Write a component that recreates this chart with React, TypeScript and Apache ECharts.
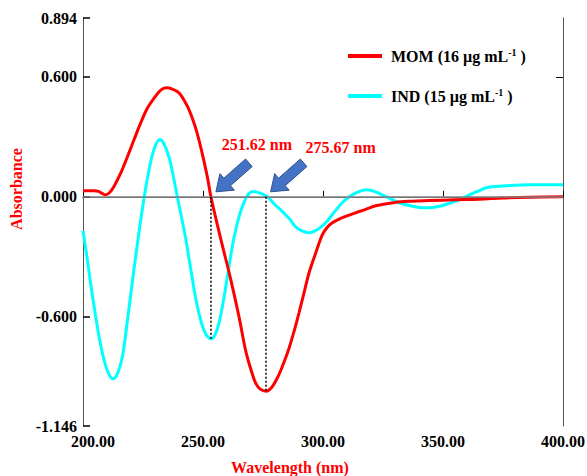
import React, { useEffect, useRef } from 'react';
import * as echarts from 'echarts';

// ---- data (wavelength nm, absorbance) ----
const xTicks = [200, 250, 300, 350, 400];
const yTicks = [-1.146, -0.6, 0, 0.6, 0.894];

const momPoints: number[][] = [
  [200, 0.03], [204.6, 0.03], [206.5, 0.027], [207.8, 0.018], [209.4, 0.01], [211, 0.02],
  [212.9, 0.052], [215.7, 0.118], [218.5, 0.2], [221.25, 0.285], [224, 0.368], [226.8, 0.443],
  [229.6, 0.493], [232.4, 0.533], [234.6, 0.545], [237, 0.54], [240, 0.52], [242, 0.485],
  [244.2, 0.435], [246.5, 0.36], [248.3, 0.285], [250, 0.2], [251.8, 0.1], [253.3, 0.0],
  [255, -0.09], [258, -0.24], [261.5, -0.41], [265, -0.6], [267.8, -0.77], [270, -0.865],
  [272, -0.933], [274, -0.963], [276.3, -0.972], [278.5, -0.955], [281, -0.905], [283, -0.85],
  [285.5, -0.77], [288, -0.67], [290, -0.58], [292.5, -0.46], [294.2, -0.38], [297, -0.28],
  [299.7, -0.19], [301.8, -0.152], [303.9, -0.13], [306.5, -0.113], [309.4, -0.098],
  [313.5, -0.08], [317.8, -0.063], [322, -0.045], [330, -0.028], [337, -0.022], [344, -0.019],
  [355, -0.015], [365, -0.012], [375, -0.006], [386, -0.002], [400, 0.0],
];

const indPoints: number[][] = [
  [200, -0.17], [202, -0.33], [203.5, -0.46], [205.3, -0.6], [207, -0.72], [208.75, -0.815],
  [210.5, -0.88], [212.5, -0.91], [214.5, -0.88], [216.4, -0.8], [218.5, -0.62], [220.5, -0.43],
  [222.5, -0.25], [224.5, -0.08], [226.5, 0.07], [228.5, 0.19], [230.3, 0.26], [232.1, 0.285],
  [233.5, 0.27], [235.8, 0.2], [237.5, 0.11], [239.3, 0.0], [241, -0.1], [242.8, -0.21],
  [245, -0.37], [247, -0.51], [249, -0.615], [251.1, -0.685], [253.4, -0.71], [255, -0.69],
  [256.7, -0.63], [258.8, -0.5], [260.8, -0.35], [263, -0.2], [265, -0.1], [267, -0.03],
  [269.2, 0.018], [271.25, 0.027], [273.5, 0.02], [276.8, 0.0], [280, -0.04], [283, -0.073],
  [286, -0.11], [288.6, -0.15], [291.5, -0.172], [294.2, -0.18], [297.5, -0.165],
  [301.1, -0.13], [304.5, -0.08], [308, -0.03], [311, 0.0], [313.6, 0.018], [317.8, 0.035],
  [322, 0.025], [327.5, -0.007], [333, -0.035], [340, -0.053], [344, -0.055], [348.3, -0.048],
  [352, -0.035], [356.7, -0.015], [361, 0.01], [365, 0.03], [368, 0.045], [372, 0.052],
  [378, 0.057], [386, 0.06], [400, 0.06],
];

// annotated crossings: wavelength of the dotted drop line and the trough value it reaches
const markA = { label: '251.62 nm', x: 253.3, y: -0.71 };
const markB = { label: '275.67 nm', x: 276.1, y: -0.97 };

const seriesNames = ['MOM', 'IND'];
const legendMain = ['MOM (16 µg mL', 'IND (15 µg mL'];

const FONT = '"Liberation Serif", "Times New Roman", serif';

function arrowPoints(tip: number[], tail: number[], shaftHalf: number, headHalf: number, headLen: number) {
  const dx = tip[0] - tail[0];
  const dy = tip[1] - tail[1];
  const L = Math.hypot(dx, dy);
  const ux = dx / L, uy = dy / L;
  const nx = -uy, ny = ux;
  const bx = tip[0] - ux * headLen, by = tip[1] - uy * headLen;
  return [
    [tip[0], tip[1]],
    [bx + nx * headHalf, by + ny * headHalf],
    [bx + nx * shaftHalf, by + ny * shaftHalf],
    [tail[0] + nx * shaftHalf, tail[1] + ny * shaftHalf],
    [tail[0] - nx * shaftHalf, tail[1] - ny * shaftHalf],
    [bx - nx * shaftHalf, by - ny * shaftHalf],
    [bx - nx * headHalf, by - ny * headHalf],
  ];
}

export default function App() {
  const ref = useRef<HTMLDivElement>(null);
  useEffect(() => {
    document.body.style.margin = '0';
    if (!ref.current) return;
    const chart = echarts.init(ref.current, undefined, { renderer: 'svg' });
    const labelStyle = { fontFamily: FONT, fontWeight: 'bold' as const, fontSize: 16, color: '#000' };
    const option: any = {
      animation: false,
      backgroundColor: '#fff',
      grid: { left: 83, right: 24, top: 18, bottom: 50, containLabel: false, outerBoundsMode: 'none' },
      legend: {
        orient: 'vertical',
        left: 343,
        top: 42,
        itemWidth: 34,
        itemHeight: 4,
        itemGap: 23,
        icon: 'rect',
        data: seriesNames,
        formatter: (name: string) => {
          const i = seriesNames.indexOf(name);
          return `{t|${legendMain[i]}}{s|-1}{t| )}`;
        },
        textStyle: {
          padding: [0, 0, 0, 4],
          rich: {
            t: { fontFamily: FONT, fontWeight: 'bold', fontSize: 16, color: '#000', lineHeight: 18 },
            s: { fontFamily: FONT, fontWeight: 'bold', fontSize: 10, color: '#000', lineHeight: 18, verticalAlign: 'top' },
          },
        },
      },
      xAxis: [
        {
          type: 'value',
          min: 200,
          max: 400,
          interval: 50,
          name: 'Wavelength (nm)',
          nameLocation: 'middle',
          nameGap: 33,
          nameTextStyle: { fontFamily: FONT, fontWeight: 'bold', fontSize: 16, color: '#ff0000', padding: [0, 66, 0, 0] },
          axisLine: { lineStyle: { color: '#555', width: 1 } },
          axisTick: { inside: true, length: 6, lineStyle: { color: '#000' } },
          axisLabel: {
            ...labelStyle,
            margin: 7,
            formatter: (v: number) => (v === 200 ? `{f|${v.toFixed(2)}}` : v.toFixed(2)),
            rich: { f: { ...labelStyle, padding: [0, 0, 0, 20] } },
            customValues: xTicks,
          },
          splitLine: { show: false },
        },
        {
          type: 'value',
          position: 'top',
          min: 200,
          max: 400,
          axisLine: { show: true, lineStyle: { color: '#555', width: 1 } },
          axisTick: { show: false },
          axisLabel: { show: false },
          splitLine: { show: false },
        },
      ],
      yAxis: [
        {
          type: 'value',
          min: -1.146,
          max: 0.894,
          name: 'Absorbance',
          nameLocation: 'middle',
          nameGap: 58,
          nameRotate: 90,
          nameTextStyle: { fontFamily: FONT, fontWeight: 'bold', fontSize: 16, color: '#ff0000', padding: [0, 0, 0, 66] },
          axisLine: { show: true, lineStyle: { color: '#555', width: 1 } },
          axisTick: { inside: true, length: 7, customValues: yTicks, lineStyle: { color: '#000', width: 1.5 } },
          axisLabel: { ...labelStyle, margin: 6, customValues: yTicks, formatter: (v: number) => v.toFixed(3) },
          splitLine: { show: false },
        },
        {
          type: 'value',
          position: 'right',
          min: -1.146,
          max: 0.894,
          axisLine: { show: true, lineStyle: { color: '#555', width: 1 } },
          axisTick: { inside: true, length: 7, customValues: [0.6], lineStyle: { color: '#000' } },
          axisLabel: { show: false },
          splitLine: { show: false },
        },
      ],
      series: [
        {
          name: 'IND',
          type: 'line',
          data: indPoints,
          smooth: 0.35,
          showSymbol: false,
          symbol: 'none',
          itemStyle: { color: '#00ffff' },
          lineStyle: { color: '#00ffff', width: 3 },
          z: 2,
        },
        {
          name: 'MOM',
          type: 'line',
          data: momPoints,
          smooth: 0.35,
          showSymbol: false,
          symbol: 'none',
          itemStyle: { color: '#ff0000' },
          lineStyle: { color: '#ff0000', width: 3 },
          z: 3,
          markLine: {
            silent: true,
            symbol: 'none',
            label: { show: false },
            lineStyle: { color: '#7f7f7f', width: 1.5, type: 'solid' },
            data: [
              { yAxis: 0 },
              [
                { coord: [markA.x, 0], lineStyle: { color: '#000', type: [2, 2], width: 1.5 } },
                { coord: [markA.x, markA.y] },
              ],
              [
                { coord: [markB.x, 0], lineStyle: { color: '#000', type: [2, 2], width: 1.5 } },
                { coord: [markB.x, markB.y] },
              ],
            ],
          },
        },
      ],
    };
    chart.setOption(option);

    const pA = chart.convertToPixel({ gridIndex: 0 }, [markA.x, 0]) as number[];
    const pB = chart.convertToPixel({ gridIndex: 0 }, [markB.x, 0]) as number[];
    const arrowStyle = { fill: '#4472c4', stroke: '#2f528f', lineWidth: 1 };
    const mkArrow = (p: number[]) =>
      ({
        type: 'polygon',
        shape: { points: arrowPoints([p[0] + 5, p[1] - 5], [p[0] + 38, p[1] - 34], 5, 11, 15) },
        style: arrowStyle,
        z: 10,
      });
    const textStyle = { fontFamily: FONT, fontWeight: 'bold', fontSize: 16, fill: '#ff0000', align: 'center', verticalAlign: 'middle' };
    chart.setOption({
      graphic: [
        mkArrow(pA),
        mkArrow(pB),
        { type: 'text', x: pA[0] + 46, y: pA[1] - 52, style: { ...textStyle, text: markA.label }, z: 10 },
        { type: 'text', x: pB[0] + 75, y: pB[1] - 49, style: { ...textStyle, text: markB.label }, z: 10 },
      ],
    });

    return () => chart.dispose();
  }, []);
  return <div ref={ref} style={{ width: 587, height: 476 }} />;
}
